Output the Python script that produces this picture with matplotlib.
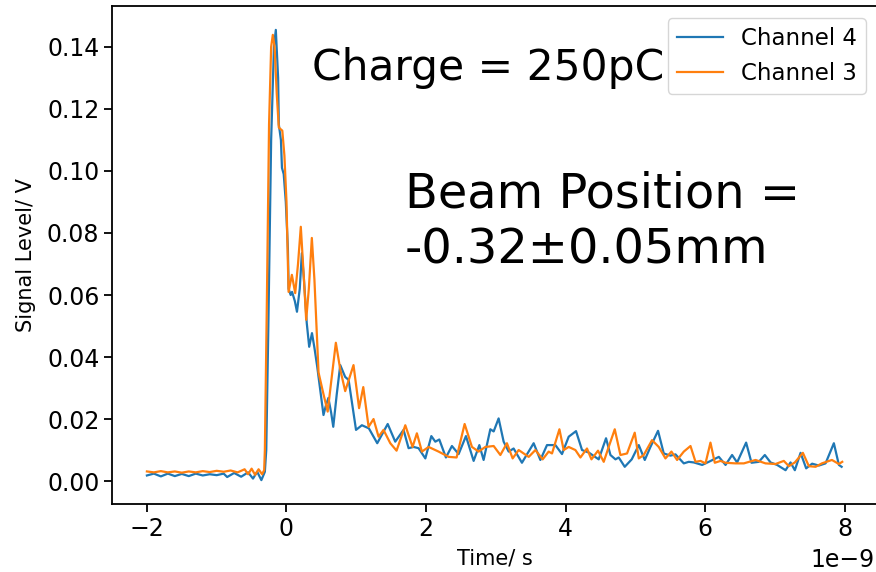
import matplotlib
matplotlib.use("Agg")
import matplotlib.pyplot as plt
import numpy as np


# time in ns, signal in V
ch4_t = [-2.0, -1.9, -1.8, -1.7, -1.6, -1.5, -1.4, -1.3, -1.2, -1.1, -1.0,
         -0.9, -0.85, -0.75, -0.65, -0.55, -0.48, -0.42, -0.36, -0.31,
         -0.29, -0.26, -0.22, -0.18, -0.153, -0.12, -0.11, -0.08, -0.065,
         -0.04, -0.01, 0.02, 0.03, 0.06, 0.08, 0.12, 0.15, 0.19, 0.22, 0.25,
         0.29, 0.325, 0.365, 0.40, 0.44, 0.49, 0.53, 0.56, 0.60, 0.64, 0.67,
         0.72, 0.77, 0.84, 0.89, 0.94, 0.996, 1.08, 1.18, 1.30, 1.45, 1.558,
         1.677, 1.749, 1.821, 1.892, 1.989, 2.075, 2.132, 2.189, 2.284, 2.370,
         2.466, 2.571, 2.681, 2.763, 2.824, 2.920, 2.968, 3.039, 3.111, 3.183,
         3.254, 3.373, 3.470, 3.541, 3.637, 3.732, 3.852, 3.947, 4.043, 4.148,
         4.234, 4.330, 4.473, 4.578, 4.641, 4.713, 4.760, 4.846, 4.946, 5.047,
         5.133, 5.214, 5.323, 5.405, 5.501, 5.573, 5.692, 5.763, 5.835, 5.955,
         6.050, 6.194, 6.290, 6.384, 6.456, 6.585, 6.662, 6.767, 6.853, 6.935,
         7.029, 7.150, 7.221, 7.283, 7.365, 7.445, 7.531, 7.627, 7.723, 7.842,
         7.914, 7.953]
ch4_v = [0.0018, 0.0024, 0.0015, 0.0024, 0.0016, 0.0023, 0.0016, 0.0024,
         0.0018, 0.0022, 0.0019, 0.0024, 0.0013, 0.0026, 0.0014, 0.0028,
         0.0008, 0.0030, 0.0003, 0.0030, 0.010, 0.050, 0.110, 0.140, 0.1455,
         0.130, 0.115, 0.110, 0.101, 0.099, 0.090, 0.075, 0.062, 0.060, 0.061,
         0.058, 0.0546, 0.062, 0.0735, 0.065, 0.051, 0.0433, 0.0477, 0.043,
         0.0369, 0.0283, 0.0213, 0.024, 0.0268, 0.022, 0.0175, 0.028, 0.0374,
         0.0336, 0.0326, 0.025, 0.0165, 0.018, 0.017, 0.0122, 0.0184, 0.0127,
         0.0165, 0.0106, 0.011, 0.0106, 0.0073, 0.0145, 0.0127, 0.0134, 0.0076,
         0.0113, 0.0087, 0.0145, 0.0065, 0.0116, 0.0068, 0.0167, 0.0160,
         0.0202, 0.0127, 0.0095, 0.0105, 0.0059, 0.0095, 0.0122, 0.0068,
         0.0116, 0.0116, 0.0087, 0.0143, 0.0161, 0.010, 0.0092, 0.007, 0.0138,
         0.0084, 0.0070, 0.0076, 0.0046, 0.0070, 0.0116, 0.0068, 0.0110,
         0.0162, 0.0089, 0.0082, 0.0086, 0.0057, 0.0062, 0.0060, 0.0052,
         0.0062, 0.0078, 0.0052, 0.0084, 0.0060, 0.0124, 0.0059, 0.0062,
         0.0084, 0.0060, 0.0052, 0.0035, 0.0060, 0.0035, 0.0091, 0.0041,
         0.0056, 0.0050, 0.0057, 0.0122, 0.0052, 0.0046]

ch3_t = [-2.0, -1.9, -1.8, -1.7, -1.6, -1.5, -1.4, -1.3, -1.2, -1.1, -1.0,
         -0.9, -0.8, -0.7, -0.6, -0.55, -0.5, -0.45, -0.4, -0.35, -0.32,
         -0.31, -0.28, -0.25, -0.22, -0.196, -0.17, -0.14, -0.11, -0.06,
         -0.03, 0.0, 0.02, 0.03, 0.077, 0.125, 0.165, 0.205, 0.25, 0.282,
         0.32, 0.363, 0.40, 0.459, 0.53, 0.59, 0.64, 0.707, 0.77, 0.841,
         0.96, 1.04, 1.10, 1.176, 1.247, 1.319, 1.39, 1.487, 1.577, 1.702,
         1.806, 1.868, 1.940, 2.036, 2.179, 2.323, 2.437, 2.552, 2.657, 2.753,
         2.849, 2.968, 3.064, 3.158, 3.240, 3.326, 3.470, 3.566, 3.670, 3.756,
         3.804, 3.910, 3.971, 4.043, 4.139, 4.211, 4.305, 4.369, 4.463, 4.545,
         4.616, 4.703, 4.784, 4.879, 4.989, 5.047, 5.118, 5.237, 5.333, 5.429,
         5.515, 5.596, 5.692, 5.788, 5.860, 5.931, 6.003, 6.074, 6.136, 6.218,
         6.290, 6.433, 6.552, 6.720, 6.863, 7.006, 7.125, 7.197, 7.283, 7.398,
         7.484, 7.580, 7.670, 7.814, 7.914, 7.962]
ch3_v = [0.0031, 0.0028, 0.0032, 0.0028, 0.0031, 0.0027, 0.0031, 0.0028,
         0.0032, 0.0029, 0.0033, 0.0030, 0.0034, 0.0028, 0.0038, 0.0022,
         0.0040, 0.0020, 0.0038, 0.0022, 0.0035, 0.010, 0.060, 0.115, 0.140,
         0.1439, 0.140, 0.125, 0.114, 0.113, 0.105, 0.090, 0.070, 0.061,
         0.0665, 0.0606, 0.070, 0.082, 0.065, 0.052, 0.062, 0.0784, 0.065,
         0.035, 0.028, 0.0224, 0.032, 0.0446, 0.036, 0.029, 0.0374, 0.0235,
         0.0303, 0.0175, 0.020, 0.0143, 0.0165, 0.0122, 0.0098, 0.018, 0.011,
         0.0154, 0.0095, 0.0110, 0.0095, 0.0078, 0.0076, 0.0184, 0.011, 0.0095,
         0.011, 0.0113, 0.0084, 0.0122, 0.0073, 0.0100, 0.0078, 0.0100, 0.0070,
         0.0095, 0.0089, 0.0167, 0.010, 0.0110, 0.0100, 0.0076, 0.0105, 0.0070,
         0.0098, 0.0062, 0.0110, 0.0167, 0.0084, 0.0089, 0.0156, 0.0073,
         0.0084, 0.0132, 0.0110, 0.0073, 0.0095, 0.0068, 0.0095, 0.0113,
         0.0062, 0.0065, 0.0057, 0.0124, 0.0059, 0.0065, 0.0059, 0.0057,
         0.0057, 0.0068, 0.0057, 0.0055, 0.0065, 0.0048, 0.0060, 0.0091,
         0.0048, 0.0046, 0.0057, 0.0068, 0.0055, 0.0062]

series_labels = ["Channel 4", "Channel 3"]
charge_text = "Charge = 250pC"
position_lines = ["Beam Position =", "-0.32\u00b10.05mm"]


plt.rcParams["font.size"] = 15
plt.rcParams["xtick.labelsize"] = 17
plt.rcParams["ytick.labelsize"] = 17
plt.rcParams["axes.linewidth"] = 1.3
plt.rcParams["xtick.major.size"] = 5.5
plt.rcParams["ytick.major.size"] = 5.5
plt.rcParams["xtick.major.width"] = 1.3
plt.rcParams["ytick.major.width"] = 1.3

fig = plt.figure(figsize=(8.76, 5.72), dpi=100)
# axes run slightly past the right edge, as in the cropped reference
ax = fig.add_axes([112 / 876, 68 / 572, 765 / 876, 498 / 572])

ax.plot(np.array(ch4_t) * 1e-9, ch4_v, color="tab:blue", lw=1.6,
        label=series_labels[0])
ax.plot(np.array(ch3_t) * 1e-9, ch3_v, color="tab:orange", lw=1.6,
        label=series_labels[1])

ax.set_xlim(-2.5e-9, 8.46e-9)
ax.set_ylim(-0.0074, 0.1532)
ax.set_xlabel("Time/ s", labelpad=6)
ax.set_ylabel("Signal Level/ V", labelpad=8)

# offset text drawn by hand so it sits inside the picture
ax.xaxis.get_offset_text().set_visible(False)
fig.text(875 / 876, 1 - 560 / 572, "1e\u22129", fontsize=17,
         ha="right", va="center")

ax.legend(loc="upper right", bbox_to_anchor=(866 / 876, 1 - 18 / 572),
          bbox_transform=fig.transFigure, borderaxespad=0, fontsize=16.5)

fig.text(312 / 876, 1 - 80 / 572, charge_text, fontsize=30.5,
         va="baseline", ha="left")
fig.text(405 / 876, 1 - 207 / 572, position_lines[0], fontsize=34.5,
         va="baseline", ha="left")
fig.text(405 / 876, 1 - 263 / 572, position_lines[1], fontsize=34.5,
         va="baseline", ha="left")

fig.savefig("out.png", dpi=100)
